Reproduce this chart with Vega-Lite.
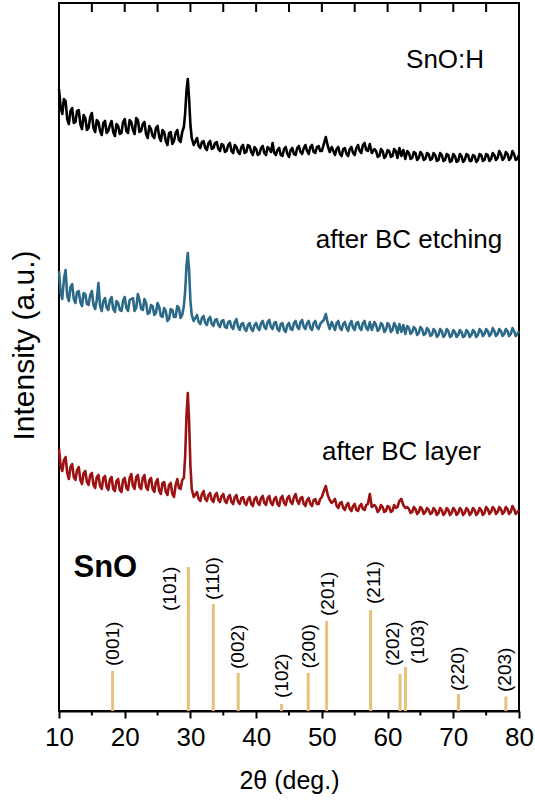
{
  "$schema": "https://vega.github.io/schema/vega-lite/v6.json",
  "autosize": {"type": "none"},
  "padding": {"left": 59, "top": 3, "right": 16, "bottom": 90},
  "width": 460,
  "height": 708,
  "background": "white",
  "config": {
    "font": "Liberation Sans",
    "view": {"stroke": "black", "strokeWidth": 2},
    "axis": {"grid": false, "labelColor": "black", "titleColor": "black", "tickColor": "black", "domainColor": "black"}
  },
  "datasets": {
    "curves": [
      {"x":10.0,"h":622,"e":440,"l":262},{"x":10.5,"h":597,"e":412,"l":240},{"x":11.0,"h":610,"e":441,"l":254},{"x":11.5,"h":587,"e":410,"l":232},
      {"x":12.0,"h":603,"e":427,"l":247},{"x":12.5,"h":589,"e":408,"l":231},{"x":13.0,"h":601,"e":420,"l":244},{"x":13.5,"h":582,"e":405,"l":227},
      {"x":14.0,"h":593,"e":417,"l":240},{"x":14.5,"h":583,"e":406,"l":226},{"x":15.0,"h":598,"e":420,"l":238},{"x":15.5,"h":579,"e":402,"l":223},
      {"x":16.0,"h":589,"e":428,"l":236},{"x":16.5,"h":576,"e":400,"l":222},{"x":17.0,"h":590,"e":413,"l":235},{"x":17.5,"h":580,"e":401,"l":221},
      {"x":18.0,"h":590,"e":414,"l":234},{"x":18.5,"h":575,"e":399,"l":220},{"x":19.0,"h":585,"e":408,"l":232},{"x":19.5,"h":578,"e":400,"l":219},
      {"x":20.0,"h":592,"e":414,"l":233},{"x":20.5,"h":578,"e":400,"l":221},{"x":21.0,"h":589,"e":412,"l":237},{"x":21.5,"h":577,"e":400,"l":222},
      {"x":22.0,"h":591,"e":417,"l":236},{"x":22.5,"h":580,"e":402,"l":222},{"x":23.0,"h":589,"e":412,"l":236},{"x":23.5,"h":573,"e":397,"l":221},
      {"x":24.0,"h":582,"e":406,"l":233},{"x":24.5,"h":573,"e":396,"l":219},{"x":25.0,"h":585,"e":408,"l":232},{"x":25.5,"h":570,"e":395,"l":217},
      {"x":26.0,"h":579,"e":403,"l":229},{"x":26.5,"h":566,"e":390,"l":216},{"x":27.0,"h":579,"e":402,"l":228},{"x":27.5,"h":570,"e":394,"l":214},
      {"x":28.0,"h":581,"e":405,"l":232},{"x":28.5,"h":569,"e":393,"l":222},{"x":29.0,"h":584,"e":405,"l":233},{"x":29.2,"h":598,"e":420,"l":255},
      {"x":29.4,"h":620,"e":445,"l":295},{"x":29.6,"h":632,"e":458,"l":318},{"x":29.8,"h":612,"e":440,"l":290},{"x":30.0,"h":586,"e":410,"l":245},
      {"x":30.2,"h":573,"e":396,"l":222},{"x":30.5,"h":566,"e":390,"l":214},{"x":31.0,"h":573,"e":396,"l":219},{"x":31.5,"h":563,"e":387,"l":210},
      {"x":32.0,"h":570,"e":395,"l":220},{"x":32.5,"h":561,"e":386,"l":210},{"x":33.0,"h":570,"e":394,"l":218},{"x":33.5,"h":563,"e":385,"l":209},
      {"x":34.0,"h":569,"e":392,"l":218},{"x":34.5,"h":560,"e":384,"l":209},{"x":35.0,"h":566,"e":391,"l":217},{"x":35.5,"h":560,"e":383,"l":208},
      {"x":36.0,"h":568,"e":390,"l":216},{"x":36.5,"h":558,"e":382,"l":207},{"x":37.0,"h":564,"e":392,"l":216},{"x":37.5,"h":557,"e":381,"l":207},
      {"x":38.0,"h":566,"e":388,"l":214},{"x":38.5,"h":559,"e":380,"l":206},{"x":39.0,"h":565,"e":388,"l":214},{"x":39.5,"h":556,"e":380,"l":205},
      {"x":40.0,"h":562,"e":388,"l":214},{"x":40.5,"h":557,"e":381,"l":206},{"x":41.0,"h":565,"e":390,"l":215},{"x":41.5,"h":556,"e":382,"l":206},
      {"x":42.0,"h":562,"e":391,"l":215},{"x":42.5,"h":568,"e":382,"l":206},{"x":43.0,"h":556,"e":389,"l":214},{"x":43.5,"h":563,"e":380,"l":205},
      {"x":44.0,"h":555,"e":388,"l":215},{"x":44.5,"h":564,"e":379,"l":206},{"x":45.0,"h":554,"e":388,"l":215},{"x":45.5,"h":563,"e":381,"l":207},
      {"x":46.0,"h":556,"e":390,"l":217},{"x":46.5,"h":565,"e":382,"l":207},{"x":47.0,"h":557,"e":391,"l":214},{"x":47.5,"h":566,"e":382,"l":205},
      {"x":48.0,"h":557,"e":390,"l":213},{"x":48.5,"h":566,"e":381,"l":205},{"x":49.0,"h":558,"e":390,"l":212},{"x":49.5,"h":565,"e":382,"l":207},
      {"x":50.0,"h":560,"e":389,"l":214},{"x":50.3,"h":567,"e":391,"l":220},{"x":50.6,"h":574,"e":397,"l":225},{"x":50.9,"h":565,"e":388,"l":216},
      {"x":51.2,"h":559,"e":382,"l":211},{"x":51.5,"h":564,"e":389,"l":208},{"x":52.0,"h":556,"e":381,"l":212},{"x":52.5,"h":564,"e":390,"l":203},
      {"x":53.0,"h":555,"e":381,"l":209},{"x":53.5,"h":563,"e":389,"l":201},{"x":54.0,"h":555,"e":380,"l":208},{"x":54.5,"h":564,"e":390,"l":200},
      {"x":55.0,"h":556,"e":381,"l":207},{"x":55.5,"h":566,"e":389,"l":200},{"x":56.0,"h":558,"e":381,"l":207},{"x":56.5,"h":568,"e":390,"l":201},
      {"x":57.0,"h":560,"e":381,"l":207},{"x":57.3,"h":567,"e":389,"l":217},{"x":57.6,"h":558,"e":381,"l":204},{"x":58.0,"h":562,"e":389,"l":206},
      {"x":58.5,"h":554,"e":380,"l":199},{"x":59.0,"h":562,"e":388,"l":206},{"x":59.5,"h":553,"e":379,"l":199},{"x":60.0,"h":561,"e":388,"l":205},
      {"x":60.5,"h":554,"e":379,"l":199},{"x":61.0,"h":562,"e":388,"l":206},{"x":61.5,"h":553,"e":378,"l":204},{"x":61.8,"h":563,"e":387,"l":210},
      {"x":62.1,"h":555,"e":379,"l":212},{"x":62.4,"h":561,"e":386,"l":206},{"x":62.7,"h":552,"e":377,"l":203},{"x":63.0,"h":560,"e":385,"l":204},
      {"x":63.5,"h":552,"e":377,"l":198},{"x":64.0,"h":559,"e":384,"l":204},{"x":64.5,"h":551,"e":376,"l":197},{"x":65.0,"h":559,"e":384,"l":204},
      {"x":65.5,"h":551,"e":376,"l":197},{"x":66.0,"h":558,"e":383,"l":203},{"x":66.5,"h":551,"e":375,"l":197},{"x":67.0,"h":558,"e":382,"l":203},
      {"x":67.5,"h":550,"e":374,"l":196},{"x":68.0,"h":558,"e":382,"l":203},{"x":68.5,"h":550,"e":374,"l":196},{"x":69.0,"h":557,"e":382,"l":203},
      {"x":69.5,"h":549,"e":374,"l":196},{"x":70.0,"h":557,"e":381,"l":203},{"x":70.5,"h":549,"e":374,"l":196},{"x":71.0,"h":557,"e":381,"l":203},
      {"x":71.5,"h":549,"e":374,"l":196},{"x":72.0,"h":557,"e":381,"l":203},{"x":72.5,"h":550,"e":374,"l":196},{"x":73.0,"h":556,"e":381,"l":203},
      {"x":73.5,"h":549,"e":374,"l":196},{"x":74.0,"h":557,"e":382,"l":203},{"x":74.5,"h":550,"e":375,"l":196},{"x":75.0,"h":557,"e":382,"l":204},
      {"x":75.5,"h":550,"e":375,"l":197},{"x":76.0,"h":558,"e":383,"l":204},{"x":76.5,"h":551,"e":375,"l":197},{"x":77.0,"h":560,"e":382,"l":204},
      {"x":77.5,"h":551,"e":375,"l":197},{"x":78.0,"h":559,"e":382,"l":204},{"x":78.5,"h":551,"e":375,"l":197},{"x":79.0,"h":560,"e":383,"l":205},
      {"x":79.5,"h":551,"e":375,"l":197},{"x":80.0,"h":556,"e":380,"l":201},
      {"x":10.25,"h":604,"e":418,"l":245},{"x":10.75,"h":612,"e":432,"l":251},{"x":11.25,"h":592,"e":415,"l":238},{"x":11.75,"h":600,"e":424,"l":244},
      {"x":12.25,"h":588,"e":412,"l":234},{"x":12.75,"h":600,"e":419,"l":241},{"x":13.25,"h":587,"e":409,"l":231},{"x":13.75,"h":596,"e":418,"l":238},
      {"x":14.25,"h":581,"e":407,"l":229},{"x":14.75,"h":594,"e":416,"l":236},{"x":15.25,"h":583,"e":406,"l":226},{"x":15.75,"h":591,"e":411,"l":234},
      {"x":16.25,"h":580,"e":405,"l":225},{"x":16.75,"h":588,"e":410,"l":233},{"x":17.25,"h":578,"e":403,"l":224},{"x":17.75,"h":586,"e":411,"l":232},
      {"x":18.25,"h":579,"e":402,"l":222},{"x":18.75,"h":587,"e":410,"l":230},{"x":19.25,"h":577,"e":401,"l":221},{"x":19.75,"h":589,"e":410,"l":231},
      {"x":20.25,"h":580,"e":403,"l":223},{"x":20.75,"h":591,"e":411,"l":233},{"x":21.25,"h":581,"e":413,"l":225},{"x":21.75,"h":593,"e":403,"l":234},
      {"x":22.25,"h":579,"e":411,"l":224},{"x":22.75,"h":587,"e":401,"l":233},{"x":23.25,"h":577,"e":408,"l":224},{"x":23.75,"h":585,"e":398,"l":231},
      {"x":24.25,"h":575,"e":405,"l":222},{"x":24.75,"h":583,"e":398,"l":229},{"x":25.25,"h":574,"e":404,"l":220},{"x":25.75,"h":581,"e":394,"l":228},
      {"x":26.25,"h":570,"e":400,"l":219},{"x":26.75,"h":578,"e":392,"l":226},{"x":27.25,"h":567,"e":401,"l":217},{"x":27.75,"h":578,"e":394,"l":226},
      {"x":28.25,"h":571,"e":403,"l":223},{"x":28.75,"h":579,"e":396,"l":231},
      {"x":31.25,"h":565,"e":389,"l":212},{"x":31.75,"h":569,"e":393,"l":217},{"x":32.25,"h":563,"e":388,"l":212},{"x":32.75,"h":568,"e":392,"l":216},
      {"x":33.25,"h":562,"e":387,"l":211},{"x":33.75,"h":568,"e":391,"l":216},{"x":34.25,"h":562,"e":386,"l":211},{"x":34.75,"h":567,"e":390,"l":215},
      {"x":35.25,"h":559,"e":384,"l":210},{"x":35.75,"h":566,"e":389,"l":214},{"x":36.25,"h":560,"e":384,"l":209},{"x":36.75,"h":566,"e":389,"l":214},
      {"x":37.25,"h":559,"e":384,"l":209},{"x":37.75,"h":564,"e":387,"l":213},{"x":38.25,"h":558,"e":382,"l":208},{"x":38.75,"h":566,"e":386,"l":212},
      {"x":39.25,"h":559,"e":382,"l":207},{"x":39.75,"h":564,"e":386,"l":212},{"x":40.25,"h":556,"e":383,"l":208},{"x":40.75,"h":563,"e":388,"l":213},
      {"x":41.25,"h":558,"e":384,"l":208},{"x":41.75,"h":564,"e":389,"l":213},{"x":42.25,"h":559,"e":384,"l":208},{"x":42.75,"h":558,"e":388,"l":212},
      {"x":43.25,"h":561,"e":382,"l":207},{"x":43.75,"h":556,"e":387,"l":213},{"x":44.25,"h":562,"e":381,"l":208},{"x":44.75,"h":557,"e":386,"l":213},
      {"x":45.25,"h":561,"e":382,"l":209},{"x":45.75,"h":557,"e":388,"l":214},{"x":46.25,"h":563,"e":384,"l":210},{"x":46.75,"h":559,"e":389,"l":213},
      {"x":47.25,"h":563,"e":384,"l":207},{"x":47.75,"h":560,"e":388,"l":211},{"x":48.25,"h":564,"e":383,"l":207},{"x":48.75,"h":559,"e":388,"l":211},
      {"x":49.25,"h":564,"e":384,"l":207},{"x":49.75,"h":560,"e":387,"l":212},
      {"x":52.25,"h":562,"e":388,"l":205},{"x":52.75,"h":557,"e":383,"l":208},{"x":53.25,"h":562,"e":387,"l":203},{"x":53.75,"h":557,"e":383,"l":206},
      {"x":54.25,"h":562,"e":387,"l":202},{"x":54.75,"h":558,"e":383,"l":205},{"x":55.25,"h":563,"e":388,"l":201},{"x":55.75,"h":560,"e":383,"l":205},
      {"x":56.25,"h":566,"e":388,"l":202},{"x":56.75,"h":561,"e":383,"l":206},
      {"x":58.25,"h":560,"e":386,"l":204},{"x":58.75,"h":555,"e":382,"l":201},{"x":59.25,"h":560,"e":386,"l":204},{"x":59.75,"h":555,"e":381,"l":200},
      {"x":60.25,"h":560,"e":386,"l":204},{"x":60.75,"h":555,"e":381,"l":200},{"x":61.25,"h":560,"e":385,"l":203},
      {"x":63.25,"h":558,"e":383,"l":202},{"x":63.75,"h":553,"e":379,"l":199},{"x":64.25,"h":558,"e":382,"l":202},{"x":64.75,"h":553,"e":378,"l":199},
      {"x":65.25,"h":557,"e":382,"l":202},{"x":65.75,"h":552,"e":377,"l":199},{"x":66.25,"h":557,"e":381,"l":201},{"x":66.75,"h":552,"e":376,"l":198},
      {"x":67.25,"h":556,"e":380,"l":201},{"x":67.75,"h":551,"e":376,"l":198},{"x":68.25,"h":556,"e":380,"l":201},{"x":68.75,"h":551,"e":376,"l":198},
      {"x":69.25,"h":556,"e":380,"l":201},{"x":69.75,"h":550,"e":375,"l":198},{"x":70.25,"h":555,"e":379,"l":201},{"x":70.75,"h":550,"e":376,"l":198},
      {"x":71.25,"h":555,"e":379,"l":201},{"x":71.75,"h":551,"e":375,"l":198},{"x":72.25,"h":556,"e":379,"l":201},{"x":72.75,"h":550,"e":376,"l":198},
      {"x":73.25,"h":555,"e":379,"l":201},{"x":73.75,"h":551,"e":376,"l":198},{"x":74.25,"h":556,"e":380,"l":201},{"x":74.75,"h":551,"e":377,"l":198},
      {"x":75.25,"h":556,"e":380,"l":202},{"x":75.75,"h":552,"e":377,"l":199},{"x":76.25,"h":556,"e":380,"l":202},{"x":76.75,"h":553,"e":377,"l":199},
      {"x":77.25,"h":557,"e":380,"l":202},{"x":77.75,"h":553,"e":377,"l":199},{"x":78.25,"h":557,"e":380,"l":202},{"x":78.75,"h":553,"e":377,"l":199},
      {"x":79.25,"h":557,"e":380,"l":202},{"x":79.75,"h":552,"e":377,"l":199}
    ],
    "ref": [
      {"hkl":"(001)","x":18.16,"v":40,"lx":18.16,"ly":45},
      {"hkl":"(101)","x":29.69,"v":144,"lx":26.83,"ly":100},
      {"hkl":"(110)","x":33.48,"v":107,"lx":33.5,"ly":111},
      {"hkl":"(002)","x":37.27,"v":38,"lx":37.27,"ly":42},
      {"hkl":"(102)","x":43.87,"v":7,"lx":43.9,"ly":13},
      {"hkl":"(200)","x":47.92,"v":38,"lx":48.1,"ly":42.5},
      {"hkl":"(201)","x":50.73,"v":90,"lx":50.9,"ly":95},
      {"hkl":"(211)","x":57.42,"v":101,"lx":57.9,"ly":107},
      {"hkl":"(202)","x":61.9,"v":37,"lx":60.86,"ly":45},
      {"hkl":"(103)","x":62.73,"v":44,"lx":64.65,"ly":47},
      {"hkl":"(220)","x":70.78,"v":17,"lx":70.72,"ly":20},
      {"hkl":"(203)","x":78.0,"v":14.5,"lx":77.9,"ly":19}
    ],
    "names": [
      {"t":"SnO:H","x":62.81,"y":643},
      {"t":"after BC etching","x":49.07,"y":463},
      {"t":"after BC layer","x":50.02,"y":251}
    ],
    "phase": [
      {"t":"SnO","x":12.2,"y":134}
    ],
    "topticks": [
      {"x":15},{"x":20},{"x":25},{"x":30},{"x":35},{"x":40},{"x":45},{"x":50},{"x":55},{"x":60},{"x":65},{"x":70},{"x":75}
    ],
    "minorticks": [
      {"x":15},{"x":25},{"x":35},{"x":45},{"x":55},{"x":65},{"x":75}
    ]
  },
  "layer": [
    {
      "data": {"name": "curves"},
      "transform": [{"fold": ["h", "e", "l"], "as": ["k", "v"]}],
      "mark": {"type": "line", "strokeWidth": 2.6, "strokeJoin": "round", "interpolate": "linear"},
      "encoding": {
        "x": {"field": "x", "type": "quantitative", "scale": {"domain": [10, 80], "nice": false, "zero": false},
          "axis": {"orient": "bottom", "values": [10, 20, 30, 40, 50, 60, 70, 80], "tickSize": 7,
            "tickWidth": 2, "domain": true, "domainWidth": 2,
            "labelFontSize": 26, "labelPadding": 6, "labelFlush": false, "labelOverlap": false, "title": "2θ (deg.)", "titleFontSize": 25, "titleFontWeight": "normal", "titlePadding": 18}},
        "y": {"field": "v", "type": "quantitative", "scale": {"domain": [0, 708], "nice": false, "zero": false},
          "axis": {"orient": "left", "ticks": false, "labels": false, "domain": false, "title": "Intensity (a.u.)", "titleFontSize": 30, "titleFontWeight": "normal",
            "titleAngle": 270, "titleBaseline": "alphabetic", "titleAlign": "center", "titleX": -26, "titleY": 342}},
        "color": {"field": "k", "type": "nominal", "scale": {"domain": ["h", "e", "l"], "range": ["#000000", "#2c6a8a", "#9c1212"]}, "legend": null},
        "detail": {"field": "k", "type": "nominal"},
        "order": {"field": "x", "type": "quantitative"}
      }
    },
    {
      "data": {"name": "topticks"},
      "mark": {"type": "rule", "strokeWidth": 2, "color": "black"},
      "encoding": {
        "x": {"field": "x", "type": "quantitative"},
        "y": {"datum": 708, "type": "quantitative"},
        "y2": {"datum": 699}
      }
    },
    {
      "data": {"name": "minorticks"},
      "mark": {"type": "rule", "strokeWidth": 2, "color": "black", "clip": false},
      "encoding": {
        "x": {"field": "x", "type": "quantitative"},
        "y": {"datum": 0, "type": "quantitative"},
        "y2": {"datum": -4.5}
      }
    },
    {
      "data": {"name": "ref"},
      "mark": {"type": "rule", "strokeWidth": 3, "color": "#e6c27a"},
      "encoding": {
        "x": {"field": "x", "type": "quantitative"},
        "y": {"field": "v", "type": "quantitative"},
        "y2": {"datum": 0}
      }
    },
    {
      "data": {"name": "ref"},
      "mark": {"type": "text", "angle": 270, "align": "left", "baseline": "middle", "fontSize": 19, "color": "black"},
      "encoding": {
        "x": {"field": "lx", "type": "quantitative"},
        "y": {"field": "ly", "type": "quantitative"},
        "text": {"field": "hkl", "type": "nominal"}
      }
    },
    {
      "data": {"name": "names"},
      "mark": {"type": "text", "align": "left", "baseline": "alphabetic", "fontSize": 26, "color": "black"},
      "encoding": {
        "x": {"field": "x", "type": "quantitative"},
        "y": {"field": "y", "type": "quantitative"},
        "text": {"field": "t", "type": "nominal"}
      }
    },
    {
      "data": {"name": "phase"},
      "mark": {"type": "text", "align": "left", "baseline": "alphabetic", "fontSize": 31, "fontWeight": "bold", "color": "black"},
      "encoding": {
        "x": {"field": "x", "type": "quantitative"},
        "y": {"field": "y", "type": "quantitative"},
        "text": {"field": "t", "type": "nominal"}
      }
    }
  ]
}
